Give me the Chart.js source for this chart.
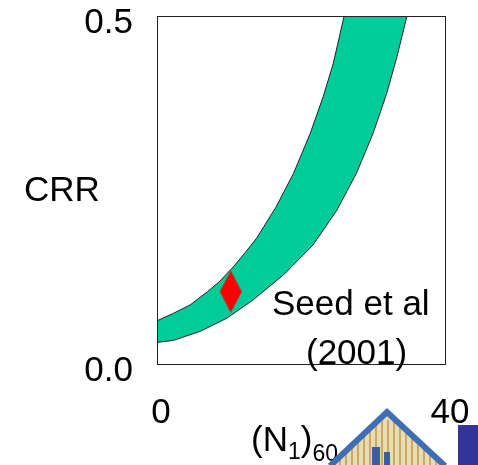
<!DOCTYPE html>
<html>
<head>
<meta charset="utf-8">
<script src="https://cdn.jsdelivr.net/npm/chart.js@4"></script>
<style>
  html, body { margin: 0; padding: 0; background: #fff; }
  #wrap { width: 478px; height: 465px; }
</style>
</head>
<body>
<div id="wrap"><canvas id="myChart" width="478" height="465"></canvas></div>
<script>
// 밴드 상한 곡선 (N1)60 - CRR
const upperN = [0, 2.3, 4.6, 7.0, 8.7, 10.6, 12.2, 13.8, 16.5, 18.9, 21.2, 23.0, 24.4, 25.9];
const upperCRR = [0.062, 0.073, 0.085, 0.104, 0.119, 0.140, 0.160, 0.181, 0.226, 0.274, 0.331, 0.384, 0.432, 0.5];
// 밴드 하한 곡선
const lowerN = [0, 2.3, 6.0, 9.7, 13.3, 17.5, 21.6, 24.9, 27.6, 29.9, 31.8, 33.2, 34.6];
const lowerCRR = [0.031, 0.034, 0.047, 0.066, 0.092, 0.128, 0.171, 0.221, 0.274, 0.331, 0.389, 0.441, 0.5];
// 빨간 마름모 지점
const caseN = [10.2];
const caseCRR = [0.104];
// 축 눈금
const xTicks = [0, 40];
const yTicks = [0.0, 0.5];

// 밴드 외곽선: 상한 → 하한(역순)으로 닫힌 도형
const bandPts = [];
upperN.forEach((n, i) => bandPts.push({ x: n, y: upperCRR[i] }));
for (let i = lowerN.length - 1; i >= 0; i--) bandPts.push({ x: lowerN[i], y: lowerCRR[i] });

// 세로로 긴 마름모 포인트 스타일
const dia = document.createElement("canvas");
dia.width = 24; dia.height = 44;
const dctx = dia.getContext("2d");
dctx.fillStyle = "#ff0000";
dctx.beginPath();
dctx.moveTo(12, 1); dctx.lineTo(23, 22); dctx.lineTo(12, 43); dctx.lineTo(1, 22);
dctx.closePath(); dctx.fill();

const FONT = "Liberation Sans, Arial, sans-serif";

// 박스, 축 제목, 주석, 로고 그리기
const decor = {
  id: "decor",
  afterDatasetsDraw(chart) {
    const { ctx, chartArea: a } = chart;
    ctx.save();
    ctx.strokeStyle = "#222";
    ctx.lineWidth = 1;
    ctx.strokeRect(a.left + 0.5, a.top + 0.5, a.right - a.left - 1, a.bottom - a.top);
    ctx.fillStyle = "#000";
    ctx.textBaseline = "alphabetic";
    ctx.font = "35px " + FONT;
    ctx.textAlign = "left";
    ctx.fillText("CRR", 24, 201);
    ctx.fillText("Seed et al", 272, 315);
    ctx.fillText("(2001)", 306, 364);
    // (N1)60
    ctx.fillText("(N", 251, 451);
    let w = ctx.measureText("(N").width;
    ctx.font = "23px " + FONT;
    ctx.fillText("1", 251 + w, 459);
    let w2 = ctx.measureText("1").width;
    ctx.font = "35px " + FONT;
    ctx.fillText(")", 251 + w + w2, 451);
    let w3 = ctx.measureText(")").width;
    ctx.font = "23px " + FONT;
    ctx.fillText("60", 251 + w + w2 + w3, 461);
    // 로고(삼각형)
    ctx.beginPath();
    ctx.moveTo(387, 410); ctx.lineTo(448, 468); ctx.lineTo(326, 468); ctx.closePath();
    ctx.fillStyle = "#e9dcb0"; ctx.fill();
    ctx.save(); ctx.clip();
    ctx.strokeStyle = "#c9a86a"; ctx.lineWidth = 2;
    for (let x = 340; x < 440; x += 6) { ctx.beginPath(); ctx.moveTo(x, 420); ctx.lineTo(x, 465); ctx.stroke(); }
    ctx.fillStyle = "#3a5f9e"; ctx.fillRect(372, 447, 8, 18); ctx.fillRect(384, 452, 6, 13);
    ctx.restore();
    ctx.strokeStyle = "#3f6eb5"; ctx.lineWidth = 6;
    ctx.beginPath(); ctx.moveTo(330, 466); ctx.lineTo(387, 412); ctx.lineTo(445, 466); ctx.stroke();
    ctx.fillStyle = "#333399";
    ctx.fillRect(458, 425, 20, 40);
    ctx.restore();
  },
};

const ctx = document.getElementById("myChart").getContext("2d");
const myChart = new Chart(ctx, {
  type: "line",
  data: {
    datasets: [
      {
        data: [{ x: caseN[0], y: caseCRR[0] }],
        showLine: false,
        pointStyle: dia,
        pointRadius: 12,
        order: 0,
      },
      {
        data: bandPts,
        borderColor: "#222",
        borderWidth: 1,
        backgroundColor: "rgb(0,204,153)",
        fill: "shape",
        pointRadius: 0,
        tension: 0,
        order: 1,
      },
    ],
  },
  plugins: [decor],
  options: {
    responsive: false,
    animation: false,
    layout: { padding: { top: 16, right: 32, left: 0, bottom: 0 } },
    plugins: { legend: { display: false }, tooltip: { enabled: false } },
    scales: {
      x: {
        type: "linear",
        min: 0,
        max: 40,
        afterBuildTicks: (s) => { s.ticks = xTicks.map((v) => ({ value: v })); },
        afterFit: (s) => { s.height = 101; s.paddingLeft = 0; s.paddingRight = 0; },
        grid: { display: false, drawTicks: false },
        border: { display: false },
        ticks: {
          color: "#000",
          font: { size: 35, family: FONT },
          padding: 28,
          labelOffset: 4,
          maxRotation: 0,
          autoSkip: false,
        },
      },
      y: {
        type: "linear",
        min: 0,
        max: 0.5,
        afterBuildTicks: (s) => { s.ticks = yTicks.map((v) => ({ value: v })); },
        afterFit: (s) => { s.width = 157; s.paddingTop = 0; s.paddingBottom = 0; },
        grid: { display: false, drawTicks: false },
        border: { display: false },
        ticks: {
          color: "#000",
          font: { size: 35, family: FONT },
          padding: 24,
          labelOffset: 7,
          callback: (v) => v.toFixed(1),
        },
      },
    },
  },
});
</script>
</body>
</html>
